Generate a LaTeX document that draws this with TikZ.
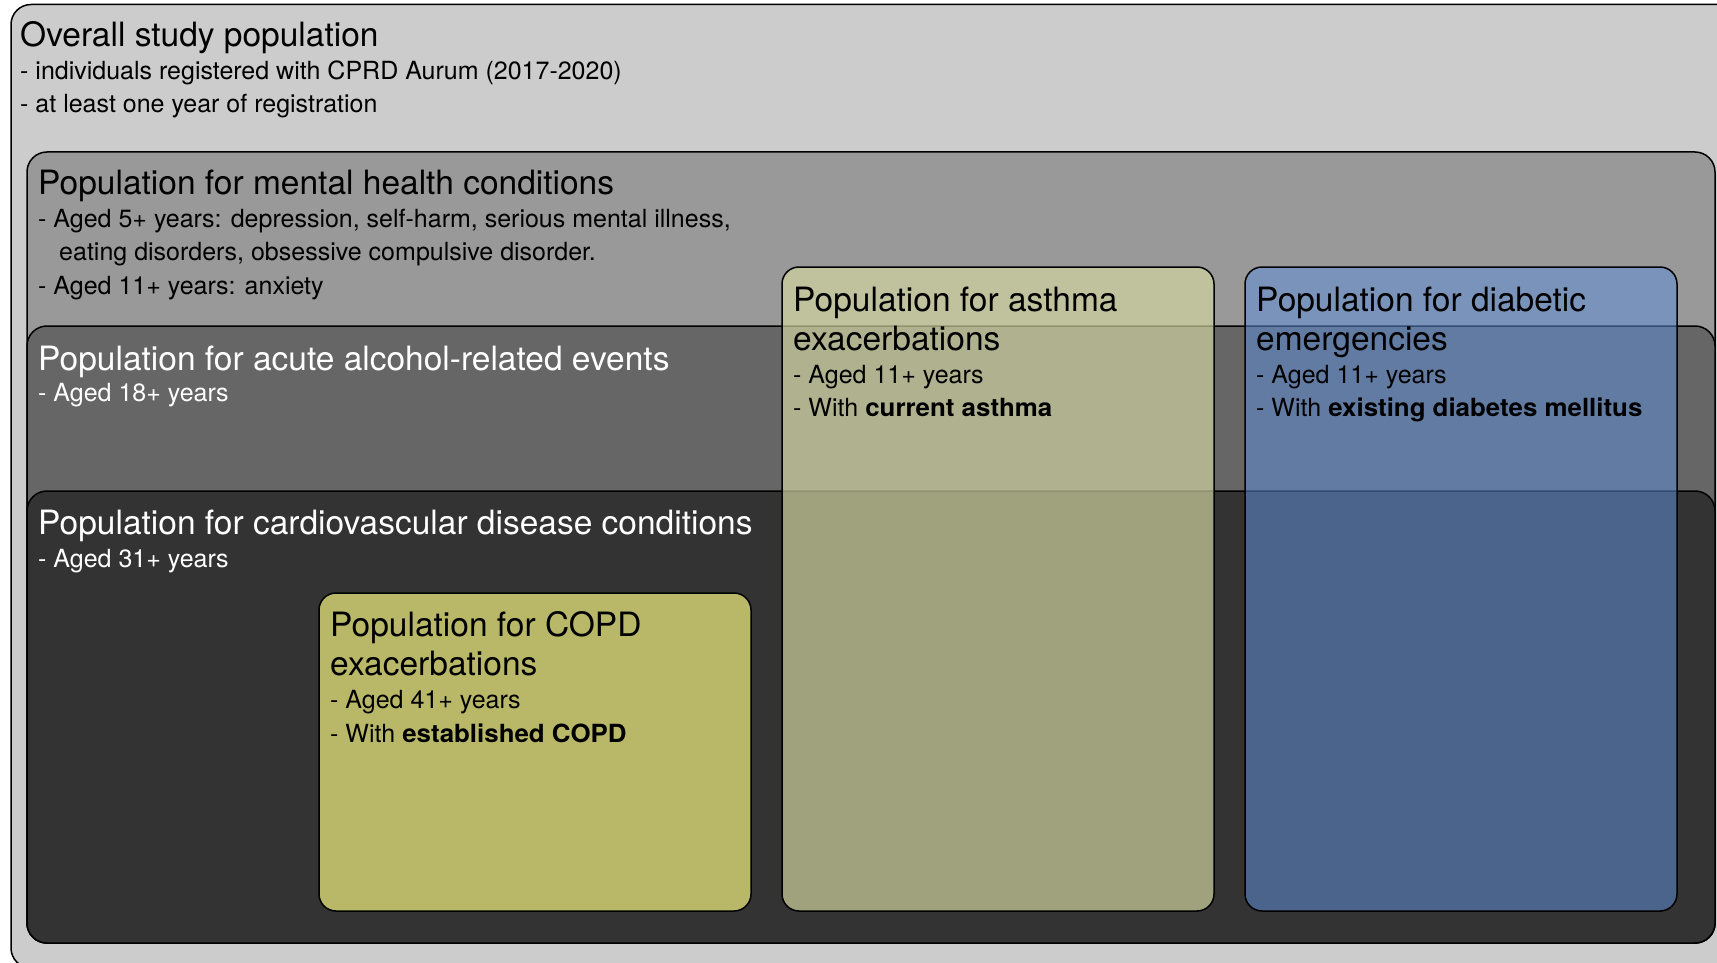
\documentclass[tikz,border=0pt]{standalone}
\usepackage{fontspec}
\setmainfont{TeX Gyre Heros}
\definecolor{outerc}{HTML}{CCCCCC}
\definecolor{mentalc}{HTML}{999999}
\definecolor{alcc}{HTML}{666666}
\definecolor{cvdc}{HTML}{333333}
\definecolor{copdc}{RGB}{185,184,105}
\definecolor{asthc}{RGB}{210,212,160}
\definecolor{diabc}{RGB}{96,142,216}
\newcommand\boldwide[1]{\scalebox{1.035}[1]{\textbf{#1}}}
\begin{document}
\begin{tikzpicture}[x=1pt,y=-1pt,
  box/.style={draw=black,line width=1.5pt,rounded corners=20pt},
  sbox/.style={box,rounded corners=17pt},
  ttl/.style={anchor=base west,inner sep=0pt,font=\fontsize{33.5}{39}\selectfont},
  bdy/.style={anchor=base west,inner sep=0pt,font=\fontsize{25}{33}\selectfont}]
\useasboundingbox (0,0) rectangle (1717,963);
\clip (0,0) rectangle (1717,963);
% boxes
\path[box,fill=outerc] (11,4.5) rectangle (1745,968);
\path[box,fill=mentalc] (27,152) rectangle (1715,943);
\path[box,fill=alcc] (27,326) rectangle (1715,943);
\path[box,fill=cvdc] (27,491) rectangle (1715,943);
\path[sbox,fill=copdc] (319,593) rectangle (751,911);
\path[sbox,fill=asthc,fill opacity=0.69] (782,267) rectangle (1214,911);
\path[sbox,fill=diabc,fill opacity=0.54] (1245,267) rectangle (1677,911);
% overall
\node[ttl] (ot) at (20,47) {Overall study population};
\node[bdy] (o1) at (20,80) {- individuals registered with CPRD Aurum (2017-2020)};
\node[bdy] (o2) at (20,112.5) {- at least one year of registration};
% mental
\node[ttl] (mt) at (38,195) {Population for mental health conditions};
\node[bdy] (m1) at (38,227.5) {- Aged 5+ years: depression, self-harm, serious mental illness,};
\node[bdy] (m2) at (59,260.5) {eating disorders, obsessive compulsive disorder.};
\node[bdy] (m3) at (38,294) {- Aged 11+ years: anxiety};
% alcohol
\node[ttl,text=white] (at) at (38,370) {Population for acute alcohol-related events};
\node[bdy,text=white] (a1) at (38,401.5) {- Aged 18+ years};
% cvd
\node[ttl,text=white] (ct) at (38,534) {Population for cardiovascular disease conditions};
\node[bdy,text=white] (c1) at (38,567) {- Aged 31+ years};
% copd
\node[ttl] (pt1) at (330,636) {Population for COPD};
\node[ttl] (pt2) at (330,675) {exacerbations};
\node[bdy] (p1) at (330,708.5) {- Aged 41+ years};
\node[bdy] (p2) at (330,742) {- With \boldwide{established COPD}};
% asthma
\node[ttl] (st1) at (793,311) {Population for asthma};
\node[ttl] (st2) at (793,350) {exacerbations};
\node[bdy] (s1) at (793,383) {- Aged 11+ years};
\node[bdy] (s2) at (793,416) {- With \boldwide{current asthma}};
% diabetic
\node[ttl] (dt1) at (1256,311) {Population for diabetic};
\node[ttl] (dt2) at (1256,350) {emergencies};
\node[bdy] (d1) at (1256,383) {- Aged 11+ years};
\node[bdy] (d2) at (1256,416) {- With \boldwide{existing diabetes mellitus}};
\end{tikzpicture}
\end{document}
